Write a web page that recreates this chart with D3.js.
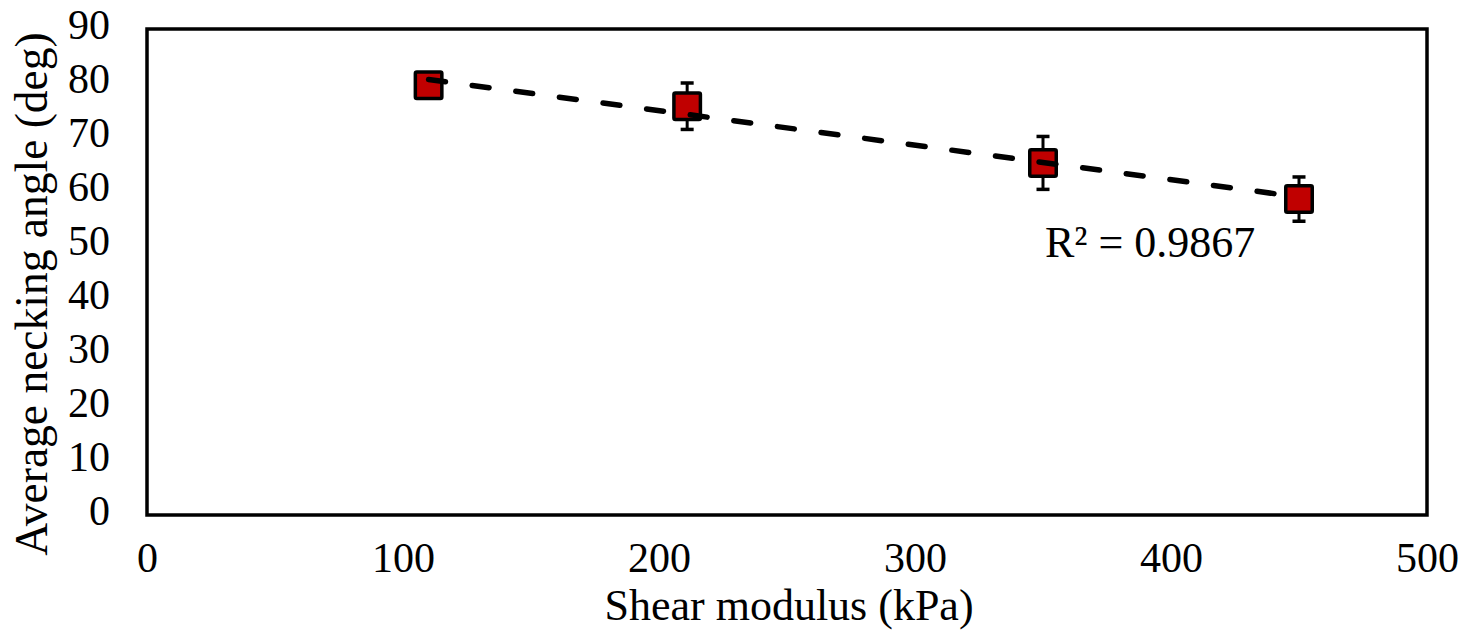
<!DOCTYPE html>
<html>
<head>
<meta charset="utf-8">
<script src="https://cdn.jsdelivr.net/npm/d3@7"></script>
<style>
  html, body { margin: 0; padding: 0; background: #fff; }
  svg { display: block; font-family: "Liberation Serif", "Times New Roman", serif; }
</style>
</head>
<body>
<svg id="chart" width="1468" height="633"></svg>
<script>
// values
const shearModulus = [110, 211, 350, 450]
const neckingAngle = [79.6, 75.7, 65.2, 58.5]
const angleError = [1.5, 4.3, 4.9, 4.1]
const xTicks = [0, 100, 200, 300, 400, 500]
const yTicks = [0, 10, 20, 30, 40, 50, 60, 70, 80, 90]
const rSquaredLabel = 'R² = 0.9867'

const svg = d3.select('#chart')
const width = 1468
const height = 633
const margin = { left: 147, right: width - 1427, top: 29, bottom: height - 515 }
const serif = '"Liberation Serif", "Times New Roman", serif'

const x = d3.scaleLinear().domain([0, 500]).range([margin.left, width - margin.right])
const y = d3.scaleLinear().domain([0, 90]).range([height - margin.bottom, margin.top])

const points = shearModulus.map((d, i) => ({ x: d, y: neckingAngle[i], e: angleError[i] }))

// least squares trendline
const mx = d3.mean(points, d => d.x)
const my = d3.mean(points, d => d.y)
const slope = d3.sum(points, d => (d.x - mx) * (d.y - my)) / d3.sum(points, d => (d.x - mx) ** 2)
const intercept = my - slope * mx
const trend = d3.extent(shearModulus).map(v => ({ x: v, y: intercept + slope * v }))

// frame
svg.append('rect')
    .attr('x', x(0)).attr('y', y(90))
    .attr('width', x(500) - x(0)).attr('height', y(0) - y(90))
    .attr('fill', 'none').attr('stroke', '#000').attr('stroke-width', 3.5)

// axes without tick marks
const xAxis = svg.append('g')
    .attr('transform', `translate(0,${y(0)})`)
    .call(d3.axisBottom(x).tickValues(xTicks).tickSize(0).tickPadding(0))
    .attr('font-family', serif).attr('font-size', 42)
xAxis.select('.domain').remove()
xAxis.selectAll('text').attr('fill', '#000').attr('y', 57).attr('dy', null)

const yAxis = svg.append('g')
    .attr('transform', `translate(${x(0)},0)`)
    .call(d3.axisLeft(y).tickValues(yTicks).tickSize(0).tickPadding(0))
    .attr('font-family', serif).attr('font-size', 42)
yAxis.select('.domain').remove()
yAxis.selectAll('text').attr('fill', '#000').attr('x', -37).attr('dy', 9)

const trendLine = d3.line().x(d => x(d.x)).y(d => y(d.y))

// error bars
const bars = svg.append('g').selectAll('g').data(points).join('g')
bars.append('line')
    .attr('x1', d => x(d.x)).attr('x2', d => x(d.x))
    .attr('y1', d => y(d.y + d.e)).attr('y2', d => y(d.y - d.e))
    .attr('stroke', '#000').attr('stroke-width', 3)
bars.selectAll('.cap').data(d => [d.y + d.e, d.y - d.e].map(v => ({ x: d.x, v })))
    .join('line').attr('class', 'cap')
    .attr('x1', d => x(d.x) - 6.5).attr('x2', d => x(d.x) + 6.5)
    .attr('y1', d => y(d.v)).attr('y2', d => y(d.v))
    .attr('stroke', '#000').attr('stroke-width', 3.5)

// markers
const size = 26.5
svg.append('g').selectAll('rect').data(points).join('rect')
    .attr('x', d => x(d.x) - size / 2).attr('y', d => y(d.y) - size / 2)
    .attr('width', size).attr('height', size).attr('rx', 1.5)
    .attr('fill', '#C00000').attr('stroke', '#000').attr('stroke-width', 3.5)

// dashed trendline sits on top of the markers
svg.append('path')
    .datum(trend)
    .attr('d', trendLine)
    .attr('fill', 'none').attr('stroke', '#000').attr('stroke-width', 5.5)
    .attr('stroke-dasharray', '17,27').attr('stroke-linecap', 'round')

// R² label
svg.append('text')
    .attr('x', 1045).attr('y', 257)
    .attr('font-size', 44).attr('fill', '#000')
    .text(rSquaredLabel)

// axis titles
svg.append('text')
    .attr('x', 789).attr('y', 620)
    .attr('text-anchor', 'middle').attr('font-size', 44).attr('fill', '#000')
    .text('Shear modulus (kPa)')

svg.append('text')
    .attr('transform', 'translate(47,294) rotate(-90)')
    .attr('text-anchor', 'middle').attr('font-size', 45.5).attr('fill', '#000')
    .text('Average necking angle (deg)')
</script>
</body>
</html>
